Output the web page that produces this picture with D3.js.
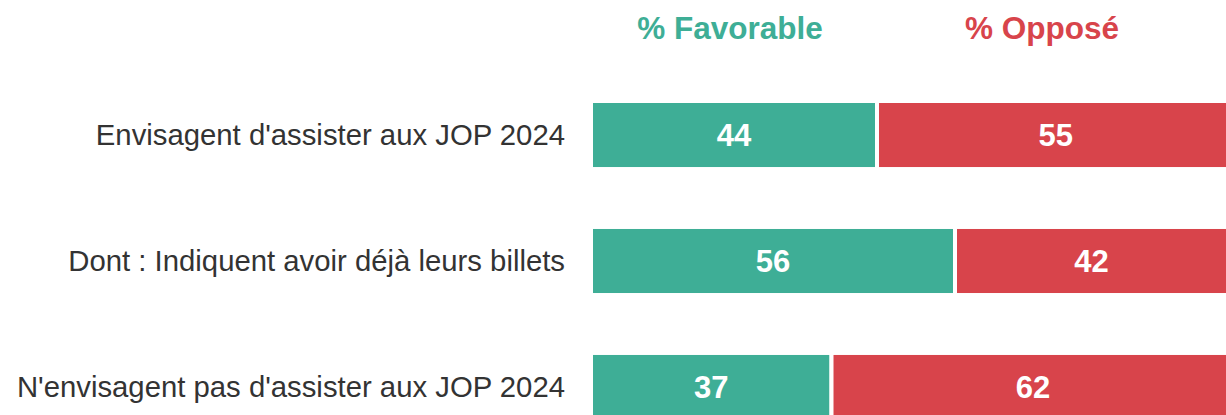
<!DOCTYPE html>
<html>
<head>
<meta charset="utf-8">
<script src="https://cdn.jsdelivr.net/npm/d3@7"></script>
<style>
  body { margin: 0; background: #fff; }
  text { font-family: "Liberation Sans", Arial, sans-serif; }
</style>
</head>
<body>
<div id="chart"></div>
<script>
const categories = [
    "Envisagent d'assister aux JOP 2024",
    "Dont : Indiquent avoir déjà leurs billets",
    "N'envisagent pas d'assister aux JOP 2024"
];
const seriesNames = ["% Favorable", "% Opposé"];
const favorable = [44, 56, 37];
const oppose = [55, 42, 62];
const colors = ["#3eae96", "#d8444b"];

const width = 1226, height = 415;

const svg = d3.select("#chart")
    .append("svg")
        .attr("width", width)
        .attr("height", height);

const x = d3.scaleLinear()
    .domain([0, 100])
    .range([591, 1241]);

const y = d3.scaleBand()
    .domain(categories)
    .range([101, 421])
    .paddingInner(0.46)
    .paddingOuter(0);

const rows = categories.map((c, i) => ({
    category: c,
    parts: [
        {name: seriesNames[0], start: 0, value: favorable[i], color: colors[0]},
        {name: seriesNames[1], start: favorable[i], value: oppose[i], color: colors[1]}
    ]
}));

// headers
svg.selectAll(".header")
    .data(seriesNames)
    .enter().append("text")
        .attr("class", "header")
        .attr("x", (d, i) => i == 0 ? 730 : 1042)
        .attr("y", 39)
        .attr("text-anchor", "middle")
        .style("font-size", "31.5px")
        .style("font-weight", "bold")
        .style("fill", (d, i) => colors[i])
        .text(d => d);

const row = svg.selectAll(".row")
    .data(rows)
    .enter().append("g")
        .attr("class", "row");

row.append("text")
    .attr("x", 565)
    .attr("y", d => y(d.category) + y.bandwidth() / 2)
    .attr("dy", ".35em")
    .attr("text-anchor", "end")
    .style("font-size", "29.3px")
    .style("fill", "#333")
    .text(d => d.category);

row.selectAll("rect")
    .data(d => d.parts.map(p => Object.assign({category: d.category}, p)))
    .enter().append("rect")
        .attr("x", d => x(d.start))
        .attr("y", d => y(d.category))
        .attr("width", d => x(d.start + d.value) - x(d.start))
        .attr("height", y.bandwidth())
        .attr("fill", d => d.color)
        .attr("stroke", "#fff")
        .attr("stroke-width", 4);

row.selectAll(".val")
    .data(d => d.parts.map(p => Object.assign({category: d.category}, p)))
    .enter().append("text")
        .attr("class", "val")
        .attr("x", d => (x(d.start) + x(d.start + d.value)) / 2)
        .attr("y", d => y(d.category) + y.bandwidth() / 2)
        .attr("dy", ".35em")
        .attr("text-anchor", "middle")
        .style("font-size", "31px")
        .style("font-weight", "bold")
        .style("fill", "#fff")
        .text(d => d.value);
</script>
</body>
</html>
